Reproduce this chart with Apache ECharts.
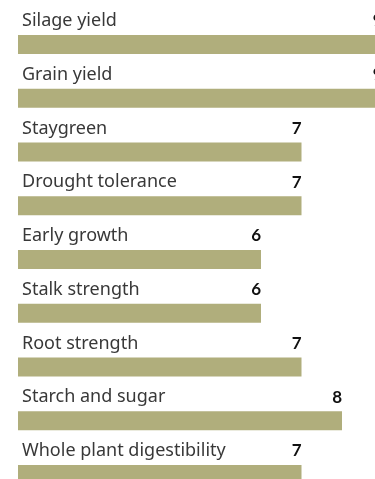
<!DOCTYPE html>
<html><head><meta charset="utf-8">
<script src="https://cdn.jsdelivr.net/npm/echarts@6/dist/echarts.min.js"></script>
<style>html,body{margin:0;padding:0;background:#fff}#c{width:375px;height:479px}</style>
</head><body><div id="c"></div>
<script>
const categories = ["Silage yield","Grain yield","Staygreen","Drought tolerance","Early growth","Stalk strength","Root strength","Starch and sugar","Whole plant digestibility"];
const values = [9,9,7,7,6,6,7,8,7];
const barColor = '#b0ae7c';
const chart = echarts.init(document.getElementById('c'));
chart.setOption({
  animation:false,
  grid:{left:18, top:17.6, width:364.5, height:483.75, containLabel:false, outerBoundsMode:'none'},
  xAxis:{type:'value', min:0, max:9, show:false},
  yAxis:{type:'category', data:categories, inverse:true, show:false},
  series:[
    {type:'bar', data:values, barWidth:19, itemStyle:{color:barColor}, silent:true, clip:false,
     label:{show:true, formatter:'{b}', position:[4,-14], verticalAlign:'middle', align:'left',
            fontFamily:'Noto Sans', fontSize:18, color:'#383838'}},
    {type:'bar', data:values, barWidth:19, barGap:'-100%', itemStyle:{color:'rgba(0,0,0,0)'}, silent:true, clip:false,
     label:{show:true, formatter:'{c}', position:['100%',-14], verticalAlign:'middle', align:'right',
            fontFamily:'Lato', fontWeight:'bold', fontSize:17, color:'#111'}}
  ]
});
</script></body></html>
